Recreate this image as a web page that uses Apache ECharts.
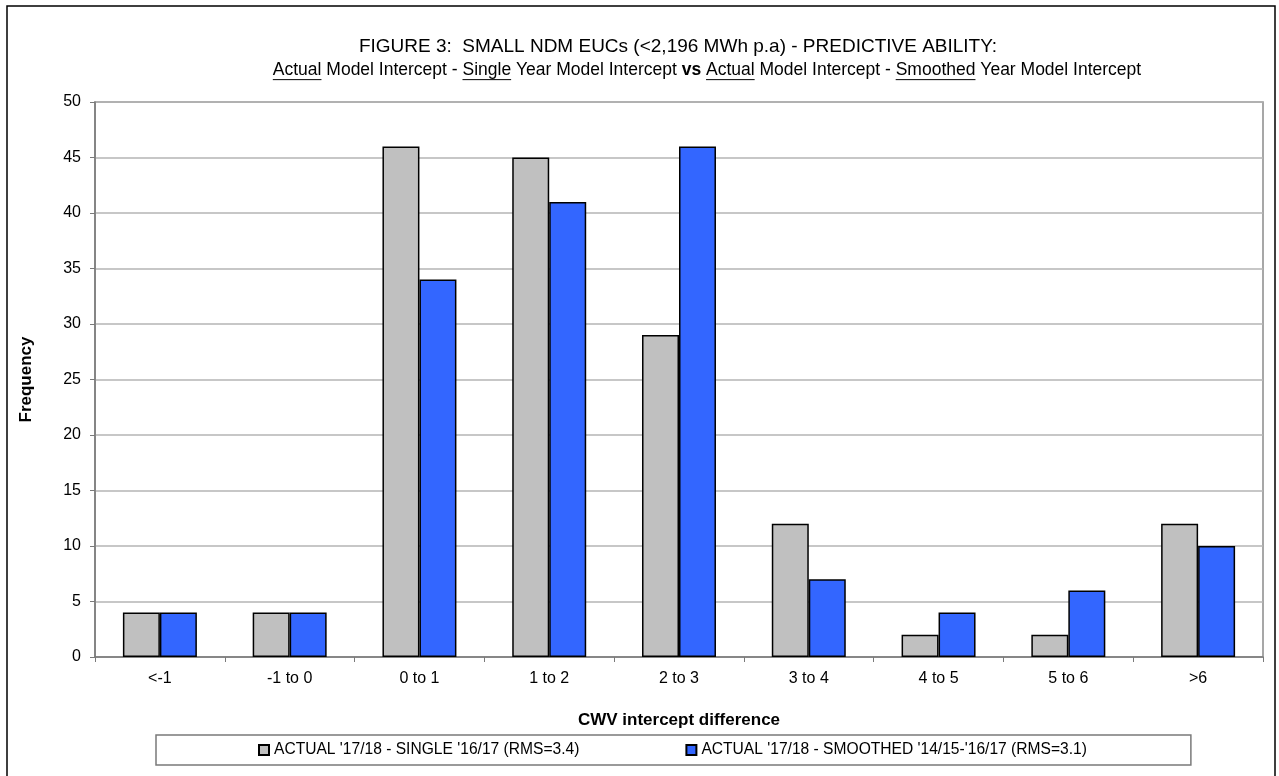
<!DOCTYPE html>
<html>
<head>
<meta charset="utf-8">
<script src="https://cdn.jsdelivr.net/npm/echarts@6/dist/echarts.min.js"></script>
<style>
  html, body { margin: 0; padding: 0; background: #ffffff; }
  #chart { width: 1279px; height: 776px; }
</style>
</head>
<body>
<div id="chart"></div>
<script>
// Frequency of CWV intercept differences per band
const categories = ['<-1', '-1 to 0', '0 to 1', '1 to 2', '2 to 3', '3 to 4', '4 to 5', '5 to 6', '>6'];
const singleYear = [4, 4, 46, 45, 29, 12, 2, 2, 12];
const smoothedYear = [4, 4, 34, 41, 46, 7, 4, 6, 10];
const seriesNames = [
  "ACTUAL '17/18 - SINGLE '16/17 (RMS=3.4)",
  "ACTUAL '17/18 - SMOOTHED '14/15-'16/17 (RMS=3.1)"
];
const yMin = 0;
const yMax = 50;
const yStep = 5;
const titleText = 'FIGURE 3:  SMALL NDM EUCs (<2,196 MWh p.a) - PREDICTIVE ABILITY:';
// subtitle pieces: [text, style]  u = underlined, b = bold
const subtitleParts = [
  ['Actual', 'u'], [' Model Intercept - ', ''], ['Single', 'u'], [' Year Model Intercept ', ''],
  ['vs', 'b'], [' ', ''], ['Actual', 'u'], [' Model Intercept - ', ''], ['Smoothed', 'u'],
  [' Year Model Intercept', '']
];
const xAxisName = 'CWV intercept difference';
const yAxisName = 'Frequency';

const FONT = '"Liberation Sans", Arial, Helvetica, sans-serif';
const GREY = '#C0C0C0';
const BLUE = '#3366FF';

const chart = echarts.init(document.getElementById('chart'), null, { renderer: 'canvas' });

// measure text so the mixed-style subtitle can be laid out piece by piece
const mctx = document.createElement('canvas').getContext('2d');
function measure(str, weight, size) {
  mctx.font = weight + ' ' + size + 'px ' + FONT;
  return mctx.measureText(str).width;
}

function buildSubtitle(cx, cy, size) {
  const widths = subtitleParts.map(p => measure(p[0], p[1] === 'b' ? 'bold' : 'normal', size));
  const total = widths.reduce((a, b) => a + b, 0);
  let x = cx - total / 2;
  const els = [];
  subtitleParts.forEach((p, i) => {
    els.push({
      type: 'text', x: x, y: cy,
      style: {
        text: p[0], fill: '#000', font: (p[1] === 'b' ? 'bold ' : 'normal ') + size + 'px ' + FONT,
        textAlign: 'left', textVerticalAlign: 'middle'
      }
    });
    if (p[1] === 'u') {
      els.push({
        type: 'line',
        shape: { x1: x, y1: cy + size * 0.55, x2: x + widths[i], y2: cy + size * 0.55 },
        style: { stroke: '#000', lineWidth: 1 }
      });
    }
    x += widths[i];
  });
  return els;
}

const option = {
  backgroundColor: '#ffffff',
  animation: false,
  textStyle: { fontFamily: FONT },
  grid: { left: 95, top: 102, right: 16, bottom: 119, show: true, borderColor: '#8a8a8a', borderWidth: 1.5 },
  legend: {
    left: 156, top: 735,
    padding: [7, 104, 7, 102],
    itemGap: 106,
    itemWidth: 10, itemHeight: 10,
    icon: 'rect',
    borderColor: '#7a7a7a', borderWidth: 1.5,
    textStyle: { fontSize: 15.6, color: '#000', fontFamily: FONT },
    data: seriesNames
  },
  xAxis: {
    type: 'category',
    data: categories,
    name: xAxisName,
    nameLocation: 'middle',
    nameGap: 55,
    nameTextStyle: { fontSize: 17, fontWeight: 'bold', color: '#000', fontFamily: FONT },
    axisLine: { lineStyle: { color: '#7a7a7a', width: 1.5 } },
    axisTick: { show: true, length: 5, lineStyle: { color: '#7a7a7a' } },
    axisLabel: { fontSize: 16, color: '#000', margin: 14, fontFamily: FONT },
    splitLine: { show: false }
  },
  yAxis: {
    type: 'value',
    min: yMin, max: yMax, interval: yStep,
    name: yAxisName,
    nameLocation: 'middle',
    nameGap: 60,
    nameTextStyle: { fontSize: 17, fontWeight: 'bold', color: '#000', fontFamily: FONT },
    axisLine: { show: true, lineStyle: { color: '#7a7a7a', width: 1.5 } },
    axisTick: { show: true, length: 5, lineStyle: { color: '#7a7a7a' } },
    axisLabel: { fontSize: 16, color: '#000', margin: 14, fontFamily: FONT },
    splitLine: { show: true, lineStyle: { color: '#b4b4b4', width: 1.5 } }
  },
  series: [
    {
      name: seriesNames[0], type: 'bar', data: singleYear,
      barGap: '0%', barCategoryGap: '43%',
      itemStyle: { color: GREY, borderColor: '#000', borderWidth: 1.5 }
    },
    {
      name: seriesNames[1], type: 'bar', data: smoothedYear,
      barGap: '0%', barCategoryGap: '43%',
      itemStyle: { color: BLUE, borderColor: '#000', borderWidth: 1.5 }
    }
  ],
  graphic: [
    {
      type: 'rect', silent: true, z: -1,
      shape: { x: 7, y: 6, width: 1268, height: 820 },
      style: { fill: 'none', stroke: '#000', lineWidth: 1.5 }
    },
    {
      type: 'text', x: 678, y: 47,
      style: { text: titleText, fill: '#000', font: 'normal 19px ' + FONT, textAlign: 'center', textVerticalAlign: 'middle' }
    }
  ].concat(buildSubtitle(707, 70, 17.5))
};

chart.setOption(option);
</script>
</body>
</html>
